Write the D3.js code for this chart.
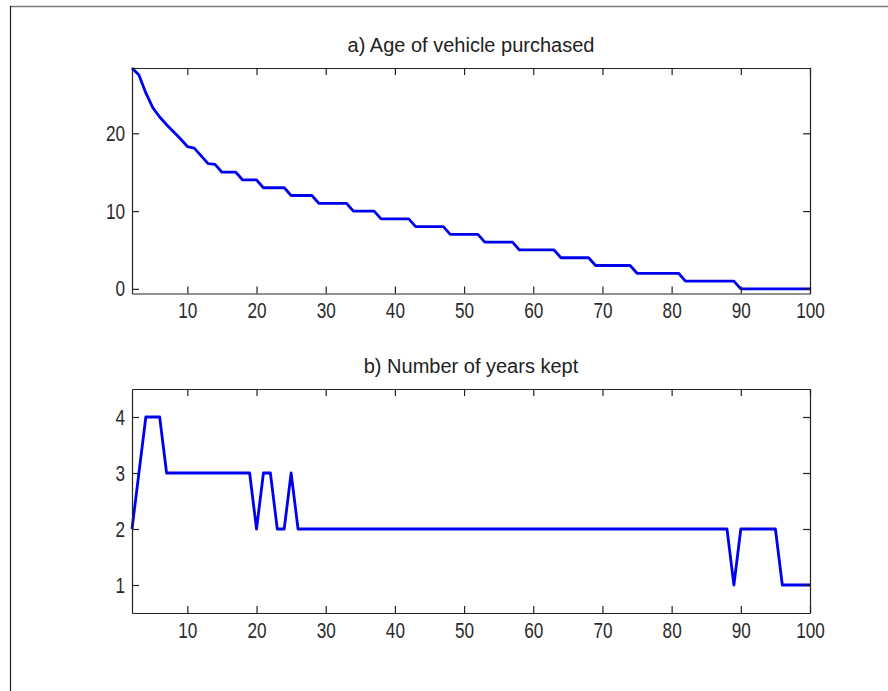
<!doctype html>
<html>
<head>
  <style>
    body { margin: 0; background: #fff; }
    .axis path, .axis line { stroke: #222; stroke-width: 1.2px; }
    .axis text { font-family: "Liberation Sans", Arial, sans-serif; font-size: 22px; fill: #2a2a2a; }
    .title { font-family: "Liberation Sans", Arial, sans-serif; font-size: 20px; fill: #222; }
    .series { fill: none; stroke: #0000f0; stroke-width: 2.8px; stroke-linejoin: round; }
  </style>
  <script src="https://d3js.org/d3.v7.min.js"></script>
</head>
<body>
<svg width="888" height="691"></svg>
<script>
  // x: period index
  var periods = d3.range(2, 101);

  // a) Age of vehicle purchased
  var ageValues = [
    28.4, 27.5, 25.2, 23.3, 22.1, 21.1, 20.2, 19.3, 18.3, 18.1,   // 2-11
    17.1, 16.1, 16, 15, 15, 15, 14, 14, 14, 13,                   // 12-21
    13, 13, 13, 12, 12, 12, 12, 11, 11, 11,                       // 22-31
    11, 11, 10, 10, 10, 10, 9, 9, 9, 9,                           // 32-41
    9, 8, 8, 8, 8, 8, 7, 7, 7, 7,                                 // 42-51
    7, 6, 6, 6, 6, 6, 5, 5, 5, 5,                                 // 52-61
    5, 5, 4, 4, 4, 4, 4, 3, 3, 3,                                 // 62-71
    3, 3, 3, 2, 2, 2, 2, 2, 2, 2,                                 // 72-81
    1, 1, 1, 1, 1, 1, 1, 1, 0, 0,                                 // 82-91
    0, 0, 0, 0, 0, 0, 0, 0, 0                                     // 92-100
  ];

  // b) Number of years kept
  var keptValues = [
    2, 3, 4, 4, 4, 3, 3, 3, 3, 3,      // 2-11
    3, 3, 3, 3, 3, 3, 3, 3, 2, 3,      // 12-21
    3, 2, 2, 3, 2, 2, 2, 2, 2, 2,      // 22-31
    2, 2, 2, 2, 2, 2, 2, 2, 2, 2,      // 32-41
    2, 2, 2, 2, 2, 2, 2, 2, 2, 2,      // 42-51
    2, 2, 2, 2, 2, 2, 2, 2, 2, 2,      // 52-61
    2, 2, 2, 2, 2, 2, 2, 2, 2, 2,      // 62-71
    2, 2, 2, 2, 2, 2, 2, 2, 2, 2,      // 72-81
    2, 2, 2, 2, 2, 2, 2, 1, 2, 2,      // 82-91
    2, 2, 2, 2, 1, 1, 1, 1, 1          // 92-100
  ];

  var xTicks = [10, 20, 30, 40, 50, 60, 70, 80, 90, 100];
  var ageTicks = [0, 10, 20];
  var keptTicks = [1, 2, 3, 4];

  var svg = d3.select("svg");
  var squeeze = 0.78;

  // outer frame lines
  svg.append("line").attr("x1", 10).attr("x2", 888).attr("y1", 6.5).attr("y2", 6.5)
    .attr("stroke", "#777").attr("stroke-width", 1.5);
  svg.append("line").attr("x1", 10.5).attr("x2", 10.5).attr("y1", 6).attr("y2", 691)
    .attr("stroke", "#222").attr("stroke-width", 1.2);

  function panel(opts) {
    var x = d3.scaleLinear().domain([2, 100]).range([opts.left, opts.right]);
    var y = d3.scaleLinear().domain(opts.yDomain).range([opts.bottom, opts.top]);
    var g = svg.append("g");

    var line = d3.line()
      .x(function (d, i) { return x(periods[i]); })
      .y(function (d) { return y(d); });

    g.append("path").datum(opts.values).attr("class", "series").attr("d", line);

    var bx = g.append("g").attr("class", "axis")
      .attr("transform", "translate(0," + opts.bottom + ")")
      .call(d3.axisBottom(x).tickValues(xTicks).tickSizeInner(-7).tickSizeOuter(0).tickPadding(9)
        .tickFormat(d3.format("d")));
    bx.selectAll("text").attr("transform", "scale(" + squeeze + ",1)");

    g.append("g").attr("class", "axis")
      .attr("transform", "translate(0," + opts.top + ")")
      .call(d3.axisTop(x).tickValues(xTicks).tickSizeInner(-7).tickSizeOuter(0).tickFormat(""));

    var ly = g.append("g").attr("class", "axis")
      .attr("transform", "translate(" + opts.left + ",0)")
      .call(d3.axisLeft(y).tickValues(opts.yTicks).tickSizeInner(-7).tickSizeOuter(0).tickPadding(7)
        .tickFormat(d3.format("d")));
    ly.selectAll("text")
      .attr("x", -7 / squeeze)
      .attr("transform", "scale(" + squeeze + ",1)");

    g.append("g").attr("class", "axis")
      .attr("transform", "translate(" + opts.right + ",0)")
      .call(d3.axisRight(y).tickValues(opts.yTicks).tickSizeInner(-7).tickSizeOuter(0).tickFormat(""));

    g.append("text").attr("class", "title")
      .attr("x", (opts.left + opts.right) / 2)
      .attr("y", opts.top - 16)
      .attr("text-anchor", "middle")
      .text(opts.title);
  }

  panel({
    left: 132, right: 810, top: 68, bottom: 293.5,
    yDomain: [-0.6, 28.4], yTicks: ageTicks,
    values: ageValues, title: "a) Age of vehicle purchased"
  });

  panel({
    left: 132, right: 810, top: 389, bottom: 613,
    yDomain: [0.5, 4.5], yTicks: keptTicks,
    values: keptValues, title: "b) Number of years kept"
  });
</script>
</body>
</html>
